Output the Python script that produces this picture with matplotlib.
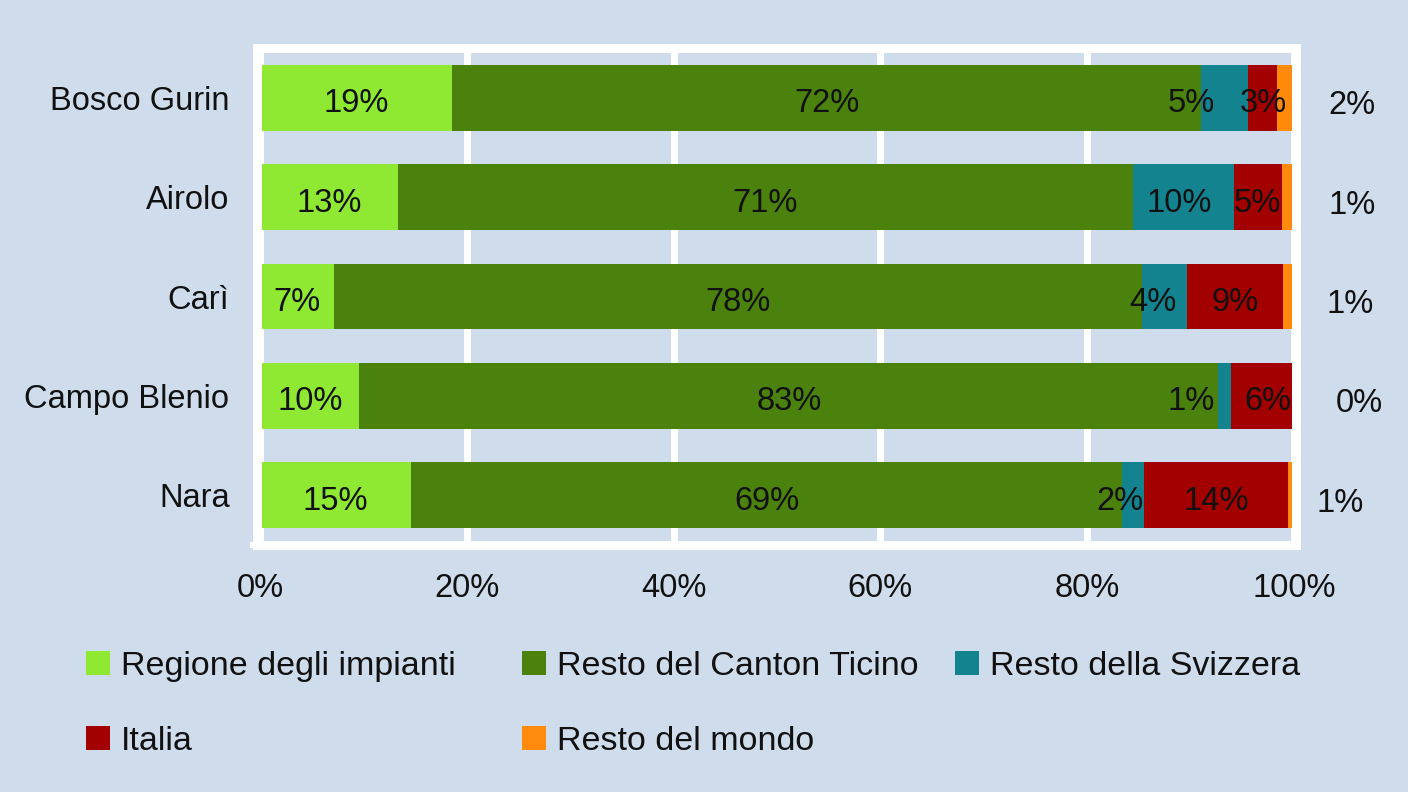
import matplotlib
matplotlib.use("Agg")
import matplotlib.pyplot as plt
from matplotlib.patches import Patch
import numpy as np

# ---- data ----
stations = ["Bosco Gurin", "Airolo", "Carì", "Campo Blenio", "Nara"]
series_names = ["Regione degli impianti", "Resto del Canton Ticino",
                "Resto della Svizzera", "Italia", "Resto del mondo"]
regione = [18.6, 13.3, 7.1, 9.6, 14.6]
canton = [72.4, 71.1, 78.2, 83.1, 68.8]
svizzera = [4.6, 9.8, 4.4, 1.2, 2.1]
italia = [2.8, 4.6, 9.2, 6.1, 13.9]
mondo = [1.6, 1.2, 1.1, 0.0, 0.6]
xticks = [0, 20, 40, 60, 80, 100]
xtick_labels = ["0%", "20%", "40%", "60%", "80%", "100%"]

# ---- style ----
colors = ["#8fe832", "#4b820d", "#13838f", "#a30000", "#ff8a0c"]
bg = "#cfdcec"
txt = "#111111"
plt.rcParams["font.family"] = ["Liberation Sans", "DejaVu Sans"]
FS = 23.5

# label x offsets (data units) for labels that are nudged off-centre
label_offsets = {
    (0, 2): -3.2, (1, 2): -0.4, (2, 2): -1.1, (3, 2): -3.2, (4, 2): -1.3,
    (3, 3): 0.5,
}
outside_x = 105.6
outside_offsets = [0.0, 0.0, -0.2, 0.7, -1.1]

series = [regione, canton, svizzera, italia, mondo]

fig = plt.figure(figsize=(14.08, 7.92), dpi=100, facecolor=bg)
ax = fig.add_axes([257.0 / 1408, 247 / 792, (1296 - 257.0) / 1408, (545 - 48) / 792])
ax.set_facecolor(bg)

y = np.arange(len(stations))
left = np.zeros(len(stations))
for si, (vals, c) in enumerate(zip(series, colors)):
    vals = np.array(vals)
    ax.barh(y, vals, left=left, height=0.66, color=c, edgecolor="none",
            label=series_names[si], zorder=2)
    for j, v in enumerate(vals):
        lab = f"{v:.0f}%"
        if si < 4:
            xc = left[j] + v / 2 + label_offsets.get((j, si), 0.0)
            ax.text(xc, y[j] + 0.06, lab, ha="center", va="center",
                    fontsize=FS, color=txt, zorder=4)
        else:
            ax.text(outside_x + outside_offsets[j], y[j] + 0.08, lab,
                    ha="center", va="center", fontsize=FS, color=txt,
                    clip_on=False, zorder=4)
    left = left + vals

ax.set_xlim(-0.3, 100.2)
ax.set_ylim(len(stations) - 0.5, -0.5)
ax.set_yticks(y)
ax.set_yticklabels(stations, fontsize=FS, color=txt)
ax.set_xticks(xticks)
ax.set_xticklabels(xtick_labels, fontsize=FS, color=txt)
ax.tick_params(axis="both", which="major", length=0)
ax.tick_params(axis="y", pad=19.8)
ax.tick_params(axis="x", pad=20)
ax.set_xticks([0], minor=True)
ax.set_yticks([len(stations) - 0.5], minor=True)
ax.tick_params(which="minor", length=5, width=4.5, color="white", direction="out")

ax.grid(axis="x", color="white", linewidth=5, zorder=1)
ax.grid(axis="y", visible=False)
ax.set_axisbelow(True)
for sp in ax.spines.values():
    sp.set_color("white")
    sp.set_linewidth(6.5)
    sp.set_zorder(3)

# ---- legend: three columns ----
handles = [Patch(facecolor=c, edgecolor="none") for c in colors]
cols = [([0, 3], 86), ([1, 4], 522), ([2], 955)]
for idxs, xpx in cols:
    leg = fig.legend([handles[i] for i in idxs], [series_names[i] for i in idxs],
                     loc="upper left", bbox_to_anchor=(xpx / 1408, (792 - 651) / 792),
                     frameon=False, fontsize=24.5, handlelength=0.7, handleheight=0.7,
                     handletextpad=0.33, labelspacing=1.28, borderpad=0,
                     borderaxespad=0)
    for t in leg.get_texts():
        t.set_color(txt)

fig.savefig("out.png", dpi=100, facecolor=bg)
